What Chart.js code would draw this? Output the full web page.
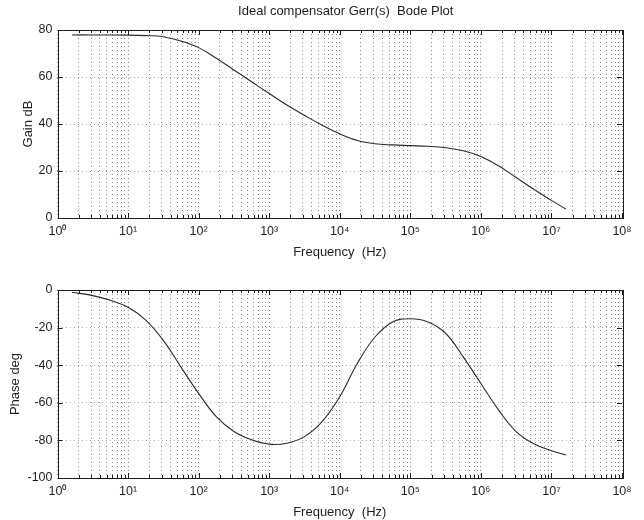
<!DOCTYPE html>
<html lang="en">
<head>
    <meta charset="UTF-8">
    <title>Ideal compensator Gerr(s) Bode Plot</title>
    <script src="https://cdn.jsdelivr.net/npm/chart.js"></script>
    <style>
        body { margin: 0; background: #fff; }
        canvas { display: block; }
    </style>
</head>
<body>
    <canvas id="gainChart" width="644" height="260"></canvas>
    <canvas id="phaseChart" width="644" height="260"></canvas>

    <script>
        // values (frequency in Hz)
        const gainFreq = [1.6, 3.16, 10, 17.8, 31.6, 56.2, 100, 178, 316, 562, 1000, 1780, 3160, 5620, 10000, 17800, 31600, 56200, 100000, 178000, 316000, 562000, 1000000, 1780000, 3160000, 5620000, 10000000, 16000000];
        const gainDb   = [77.9, 77.9, 77.8, 77.6, 77.1, 75.3, 72.5, 68.0, 63.0, 58.0, 53.0, 48.1, 43.7, 39.5, 35.8, 33.0, 31.6, 31.1, 30.8, 30.5, 29.9, 28.6, 26.2, 22.2, 17.2, 12.2, 7.5, 3.8];

        const phaseFreq = [1.6, 3.16, 5.62, 10, 17.8, 31.6, 56.2, 100, 178, 316, 562, 1000, 1780, 3160, 5620, 10000, 17800, 31600, 56200, 100000, 178000, 316000, 562000, 1000000, 1780000, 3160000, 5620000, 10000000, 16000000];
        const phaseDeg  = [-1.2, -3, -5.5, -9.2, -16, -26.8, -41, -55, -67.4, -75.3, -79.7, -82, -81.5, -78, -70, -56.8, -39, -25, -17, -15.3, -17, -23, -35.6, -49.7, -63.8, -75.3, -81.8, -85.5, -87.7];

        const decades = [0, 1, 2, 3, 4, 5, 6, 7, 8];
        const mantissas = [1, 2, 3, 4, 5, 6, 7, 8, 9];
        const sup = ['⁰', '¹', '²', '³', '⁴', '⁵', '⁶', '⁷', '⁸'];

        const FONT = "'Liberation Sans', Arial, sans-serif";
        const INK = '#1e1e1e';

        function buildLogTicks(scale) {
            const ticks = [];
            decades.forEach(d => {
                mantissas.forEach(m => {
                    const v = m * Math.pow(10, d);
                    if (v <= 1e8) ticks.push({ value: v, major: m === 1 });
                });
            });
            scale.ticks = ticks;
        }

        function logLabel(value) {
            const d = Math.round(Math.log10(value));
            if (Math.abs(value - Math.pow(10, d)) < 1e-6 * value) return '10' + sup[d];
            return '';
        }

        // MATLAB-like box with inward tick marks, plus the plot title
        const boxPlugin = {
            id: 'box',
            afterDraw(chart, args, opts) {
                const { ctx, chartArea: a, scales: { x, y } } = chart;
                ctx.save();
                ctx.strokeStyle = INK;
                ctx.lineWidth = 1;
                ctx.beginPath();
                x.ticks.forEach(t => {
                    const px = Math.round(x.getPixelForValue(t.value)) + 0.5;
                    const len = t.major ? 5 : 3;
                    ctx.moveTo(px, a.bottom); ctx.lineTo(px, a.bottom - len);
                    ctx.moveTo(px, a.top); ctx.lineTo(px, a.top + len);
                });
                y.ticks.forEach(t => {
                    const py = Math.round(y.getPixelForValue(t.value)) + 0.5;
                    ctx.moveTo(a.left, py); ctx.lineTo(a.left + 5, py);
                    ctx.moveTo(a.right, py); ctx.lineTo(a.right - 5, py);
                });
                ctx.stroke();
                ctx.strokeRect(Math.round(a.left) + 0.5, Math.round(a.top) + 0.5,
                    Math.round(a.right - a.left), Math.round(a.bottom - a.top));
                if (opts.title) {
                    ctx.fillStyle = INK;
                    ctx.font = '13px ' + FONT;
                    ctx.textAlign = 'center';
                    ctx.textBaseline = 'middle';
                    ctx.fillText(opts.title, (a.left + a.right) / 2 + 6, 11);
                }
                ctx.restore();
            }
        };

        function makeChart(id, freq, vals, yMin, yMax, yTitle, yTitlePad, title) {
            const ctx = document.getElementById(id).getContext('2d');
            return new Chart(ctx, {
                type: 'scatter',
                data: {
                    datasets: [{
                        data: freq.map((f, i) => ({ x: f, y: vals[i] })),
                        showLine: true,
                        borderColor: '#2a2a2a',
                        borderWidth: 1.1,
                        pointRadius: 0,
                        tension: 0.4
                    }]
                },
                options: {
                    responsive: false,
                    animation: false,
                    layout: { padding: { top: 30, right: 22, left: 0, bottom: 0 } },
                    plugins: {
                        legend: { display: false },
                        tooltip: { enabled: false },
                        box: { title: title }
                    },
                    scales: {
                        x: {
                            type: 'logarithmic',
                            min: 1,
                            max: 1e8,
                            afterBuildTicks: buildLogTicks,
                            afterFit: s => { s.height = 42; },
                            grid: { color: '#8a8a8a', drawTicks: false },
                            border: { display: false, dash: [1, 3] },
                            ticks: {
                                autoSkip: false,
                                maxRotation: 0,
                                padding: 6,
                                color: INK,
                                font: { family: FONT, size: 12.5 },
                                callback: logLabel
                            },
                            title: {
                                display: true,
                                text: 'Frequency  (Hz)',
                                color: INK,
                                font: { family: FONT, size: 13 },
                                padding: { top: 0, bottom: 0 }
                            }
                        },
                        y: {
                            min: yMin,
                            max: yMax,
                            afterFit: s => { s.width = 57.5; },
                            grid: { color: '#b0b0b0', drawTicks: false },
                            border: { display: false, dash: [1, 3] },
                            ticks: {
                                stepSize: 20,
                                padding: 5,
                                color: INK,
                                font: { family: FONT, size: 12.5 }
                            },
                            title: {
                                display: true,
                                text: yTitle,
                                color: INK,
                                font: { family: FONT, size: 13 },
                                padding: { top: yTitlePad, bottom: 0 }
                            }
                        }
                    }
                },
                plugins: [boxPlugin]
            });
        }

        makeChart('gainChart', gainFreq, gainDb, 0, 80, 'Gain dB', 21, 'Ideal compensator Gerr(s)  Bode Plot');
        makeChart('phaseChart', phaseFreq, phaseDeg, -100, 0, 'Phase deg', 8, '');
    </script>
</body>
</html>
